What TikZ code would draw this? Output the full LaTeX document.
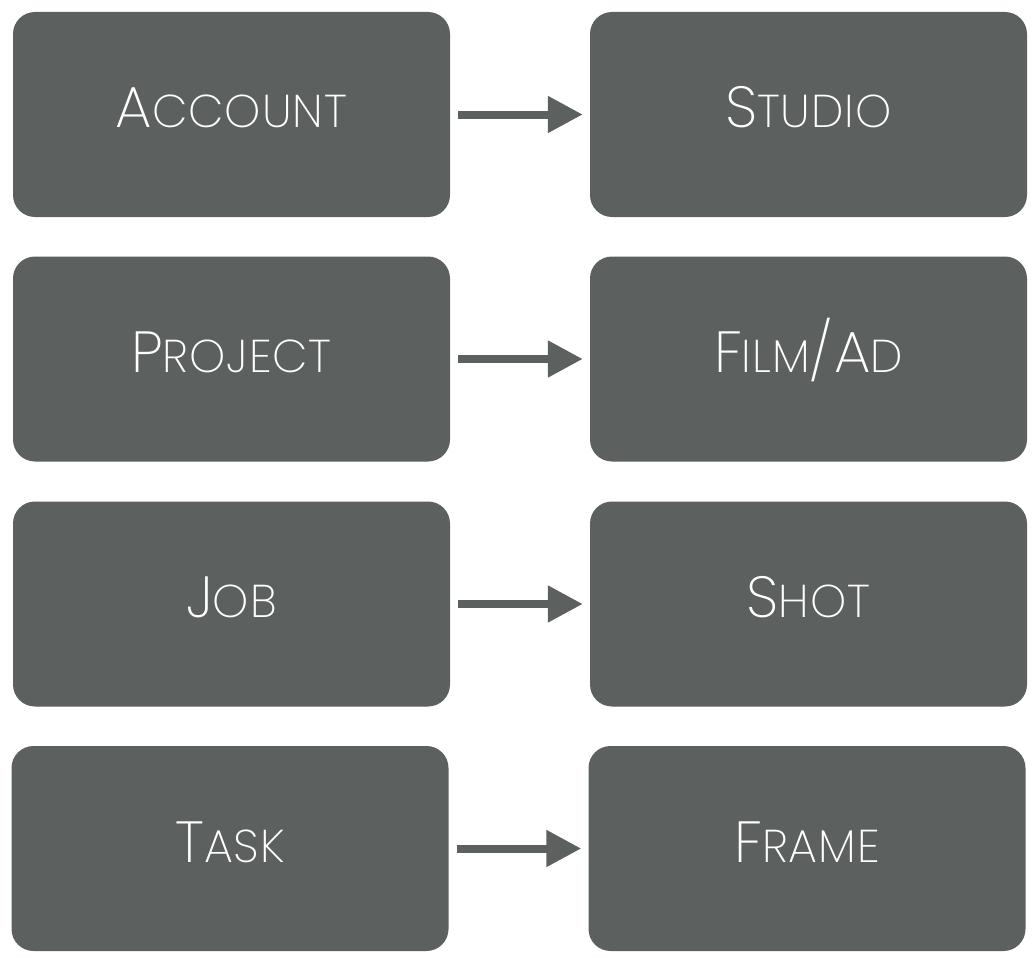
\documentclass[tikz,border=0pt]{standalone}
\usepackage{fontspec}
\newfontfamily\popfont{Poppins ExtraLight}[LetterSpace=2]
\usetikzlibrary{arrows.meta}
\definecolor{boxgray}{RGB}{92,96,95}
\newcommand\BigL[1]{{\fontsize{58}{60}\selectfont #1}}
\newcommand\SmL[1]{{\fontsize{46}{48}\selectfont #1}}
\tikzset{
  entity/.style={fill=boxgray, draw=none, rounded corners=22pt,
    minimum width=437pt, minimum height=205pt, inner sep=0pt,
    text=white, font=\popfont, text height=27pt, text depth=0pt},
  linkarrow/.style={draw=boxgray, line width=8pt, shorten <=8pt, shorten >=7pt,
    -{Triangle[length=35pt,width=35pt]}}
}
\begin{document}
\begin{tikzpicture}[x=1pt,y=-1pt]
\useasboundingbox (0,0) rectangle (1034,958);
\node[entity] (account) at (231.5,114.5) {\BigL{A}\SmL{CCOUNT}};
\node[entity] (studio)  at (808.5,114.5) {\BigL{S}\SmL{TUDIO}};
\node[entity] (project) at (231.5,359) {\BigL{P}\SmL{ROJECT}};
\node[entity] (film)    at (808.5,359) {\BigL{F}\SmL{ILM}\BigL{/A}\SmL{D}};
\node[entity] (job)     at (231.5,604) {\BigL{J}\SmL{OB}};
\node[entity] (shot)    at (808.5,604) {\BigL{S}\SmL{HOT}};
\node[entity] (task)    at (230,848.5) {\BigL{T}\SmL{ASK}};
\node[entity] (frame)   at (807,848.5) {\BigL{F}\SmL{RAME}};
\draw[linkarrow] (account.east) -- (studio.west);
\draw[linkarrow] (project.east) -- (film.west);
\draw[linkarrow] (job.east) -- (shot.west);
\draw[linkarrow] (task.east) -- (frame.west);
\end{tikzpicture}
\end{document}
